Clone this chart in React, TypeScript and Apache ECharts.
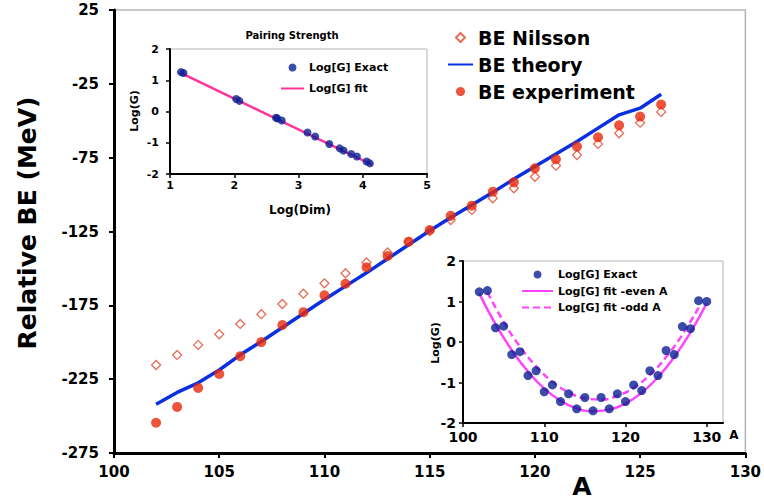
import React, { useEffect, useRef } from 'react';
import * as echarts from 'echarts';

// ---- Main chart data ----
const massNumbers = [102, 103, 104, 105, 106, 107, 108, 109, 110, 111, 112, 113, 114, 115, 116, 117, 118, 119, 120, 121, 122, 123, 124, 125, 126];
const beNilsson = [-215.4, -208.6, -201.8, -194.6, -187.6, -181, -174.1, -167.1, -160.1, -153.3, -146, -139.2, -132, -124.8, -117.2, -110.4, -102.5, -95.7, -87.9, -80.4, -73.2, -65.7, -58.5, -51.3, -44];
const beTheory = [-242, -234, -227.5, -218.8, -208.5, -199.5, -190, -180.5, -171, -162, -153, -143.5, -134, -124.5, -115.5, -107, -98.5, -89.5, -81, -72.5, -64, -55, -46, -41.5, -32];
const beExperiment = [-254.5, -243.8, -230.9, -221.5, -209.4, -199.9, -188.3, -179.6, -168.2, -160.4, -149.2, -141.6, -131.9, -124, -114.4, -107.5, -98, -91.7, -82.2, -76.1, -67.5, -61.2, -53.1, -47.2, -39];

// ---- Inset 1: Pairing strength vs Log(Dim) ----
const logDim = [1.17, 1.21, 2.03, 2.08, 2.65, 2.67, 2.74, 3.14, 3.26, 3.48, 3.64, 3.70, 3.82, 3.91, 4.06, 4.11];
const logGvsDim = [1.26, 1.23, 0.40, 0.34, -0.20, -0.22, -0.29, -0.67, -0.80, -1.04, -1.18, -1.25, -1.36, -1.44, -1.60, -1.66];
const fitLogDim = [1.15, 4.15];
const fitLogG = [1.25, -1.71];

// ---- Inset 2: Log(G) vs A ----
const insetA = [102, 103, 104, 105, 106, 107, 108, 109, 110, 111, 112, 113, 114, 115, 116, 117, 118, 119, 120, 121, 122, 123, 124, 125, 126, 127, 128, 129, 130];
const insetLogG = [1.24, 1.27, 0.35, 0.39, -0.31, -0.24, -0.83, -0.71, -1.23, -1.06, -1.47, -1.28, -1.65, -1.37, -1.70, -1.37, -1.65, -1.28, -1.47, -1.06, -1.20, -0.71, -0.83, -0.21, -0.31, 0.38, 0.33, 1.02, 1.0];
const evenA = [102, 104, 106, 108, 110, 112, 114, 116, 118, 120, 122, 124, 126, 128, 130];
const evenFit = [1.20, 0.44, -0.20, -0.73, -1.15, -1.45, -1.64, -1.71, -1.67, -1.52, -1.25, -0.87, -0.37, 0.24, 0.96];
const oddA = [103, 105, 107, 109, 111, 113, 115, 117, 119, 121, 123, 125, 127, 129];
const oddFit = [1.23, 0.50, -0.11, -0.60, -0.98, -1.24, -1.39, -1.42, -1.33, -1.13, -0.81, -0.37, 0.18, 0.85];

const FONT = 'DejaVu Sans';
const zip = (xs: number[], ys: number[]) => xs.map((x, i) => [x, ys[i]]);

const NAVY = '#0b1f93';
const PINK = '#ff3399';
const MAGENTA = '#ff44ff';
const DIAMOND_ICON = 'path://M5,0L10,5L5,10L0,5Z';

export default function App() {
  const ref = useRef<HTMLDivElement>(null);
  useEffect(() => {
    if (!ref.current) return;
    const chart = echarts.init(ref.current, undefined, { renderer: 'svg' });
    const axisLbl = (size: number, margin: number) => ({
      fontFamily: FONT, fontWeight: 'bold' as const, fontSize: size, color: '#000', margin,
    });
    const axisLine = (w: number) => ({ show: true, onZero: false, lineStyle: { color: '#000', width: w } });
    const tick = (len: number, w: number) => ({ show: true, inside: false, length: len, lineStyle: { color: '#000', width: w } });
    const hideSym = { opacity: 0 };

    chart.setOption({
      animation: false,
      backgroundColor: '#fff',
      grid: [
        { left: 114, top: 10, right: 16, bottom: 48, show: true, borderColor: '#b5b5b5', borderWidth: 1.5, backgroundColor: 'transparent' },
        { left: 170, top: 49, width: 257, height: 125, show: true, borderColor: '#b5b5b5', borderWidth: 1, backgroundColor: 'transparent' },
        { left: 463, top: 261, width: 260, height: 162, show: true, borderColor: '#b5b5b5', borderWidth: 1, backgroundColor: 'transparent' },
      ],
      xAxis: [
        { gridIndex: 0, type: 'value', min: 100, max: 130, interval: 5, axisLine: axisLine(3), axisTick: tick(5, 2), axisLabel: axisLbl(15, 11), splitLine: { show: false } },
        { gridIndex: 1, type: 'value', min: 1, max: 5, interval: 1, axisLine: axisLine(2), axisTick: tick(4, 1.5), axisLabel: axisLbl(11, 6), splitLine: { show: false } },
        { gridIndex: 2, type: 'value', min: 100, max: 132, axisLine: axisLine(2), axisTick: { ...tick(4, 1.5), customValues: [100, 110, 120, 130] }, axisLabel: { ...axisLbl(14, 7), customValues: [100, 110, 120, 130] }, splitLine: { show: false } },
      ],
      yAxis: [
        { gridIndex: 0, type: 'value', min: -275, max: 25, interval: 50, axisLine: axisLine(3), axisTick: tick(5, 2), axisLabel: axisLbl(15, 15), splitLine: { show: false } },
        { gridIndex: 1, type: 'value', min: -2, max: 2, interval: 1, axisLine: axisLine(2), axisTick: tick(4, 1.5), axisLabel: axisLbl(11, 11), splitLine: { show: false } },
        { gridIndex: 2, type: 'value', min: -2, max: 2, interval: 1, axisLine: axisLine(2), axisTick: tick(4, 1.5), axisLabel: axisLbl(14, 7), splitLine: { show: false } },
      ],
      legend: [
        {
          data: [{ name: 'BE Nilsson', icon: DIAMOND_ICON }, { name: 'BE theory', itemStyle: hideSym }, { name: 'BE experiment', icon: 'circle' }],
          orient: 'vertical', left: 447, top: 28, padding: 0, itemWidth: 25, itemHeight: 9, itemGap: 8, selectedMode: false, symbolKeepAspect: true,
          textStyle: { fontFamily: FONT, fontWeight: 'bold', fontSize: 19, color: '#000' },
        },
        {
          data: [{ name: 'Log[G] Exact', icon: 'circle' }, { name: 'Log[G] fit', itemStyle: hideSym }],
          orient: 'vertical', left: 280, top: 62, padding: 0, itemWidth: 23, itemHeight: 8, itemGap: 10, selectedMode: false, symbolKeepAspect: true,
          textStyle: { fontFamily: FONT, fontWeight: 'bold', fontSize: 11, color: '#000' },
        },
        {
          data: [{ name: 'Log[G] Exact', icon: 'circle' }, { name: 'Log[G] fit -even A', itemStyle: hideSym }, { name: 'Log[G] fit -odd A', itemStyle: hideSym }],
          orient: 'vertical', left: 521, top: 269, padding: 0, itemWidth: 31, itemHeight: 8, itemGap: 5.5, selectedMode: false, symbolKeepAspect: true,
          textStyle: { fontFamily: FONT, fontWeight: 'bold', fontSize: 11, color: '#000' },
        },
      ],
      series: [
        {
          name: 'BE Nilsson', type: 'scatter', xAxisIndex: 0, yAxisIndex: 0, symbol: 'diamond', symbolSize: 9,
          itemStyle: { color: '#ffffff', borderColor: '#e04a2e', borderWidth: 1.3 }, data: zip(massNumbers, beNilsson), z: 2,
        },
        {
          name: 'BE theory', type: 'line', xAxisIndex: 0, yAxisIndex: 0, symbol: 'none', smooth: false,
          lineStyle: { color: '#0a2fe0', width: 3.5 }, itemStyle: { color: '#0a2fe0' }, data: zip(massNumbers, beTheory), z: 3,
        },
        {
          name: 'BE experiment', type: 'scatter', xAxisIndex: 0, yAxisIndex: 0, symbol: 'circle', symbolSize: 10,
          itemStyle: { color: '#e8290b' }, data: zip(massNumbers, beExperiment), z: 4,
        },
        {
          name: 'Log[G] fit', type: 'line', xAxisIndex: 1, yAxisIndex: 1, symbol: 'none',
          lineStyle: { color: PINK, width: 2.5 }, itemStyle: { color: PINK }, data: zip(fitLogDim, fitLogG), z: 3,
        },
        {
          name: 'Log[G] Exact', type: 'scatter', xAxisIndex: 1, yAxisIndex: 1, symbol: 'circle', symbolSize: 8,
          itemStyle: { color: NAVY }, data: zip(logDim, logGvsDim), z: 4,
        },
        {
          name: 'Log[G] fit -even A', type: 'line', xAxisIndex: 2, yAxisIndex: 2, symbol: 'none', smooth: true,
          lineStyle: { color: MAGENTA, width: 2.5 }, itemStyle: { color: MAGENTA }, data: zip(evenA, evenFit), z: 3,
        },
        {
          name: 'Log[G] fit -odd A', type: 'line', xAxisIndex: 2, yAxisIndex: 2, symbol: 'none', smooth: true,
          lineStyle: { color: MAGENTA, width: 2.5, type: [7, 4] }, itemStyle: { color: MAGENTA }, data: zip(oddA, oddFit), z: 3,
        },
        {
          name: 'Log[G] Exact', type: 'scatter', xAxisIndex: 2, yAxisIndex: 2, symbol: 'circle', symbolSize: 9,
          itemStyle: { color: NAVY }, data: zip(insetA, insetLogG), z: 4,
        },
      ],
      graphic: [
        { type: 'text', x: 27, y: 223, rotation: Math.PI / 2, style: { text: 'Relative BE (MeV)', font: `bold 25px "${FONT}"`, fill: '#000', align: 'center', verticalAlign: 'middle' } },
        { type: 'text', x: 582, y: 486, style: { text: 'A', font: `bold 25px "${FONT}"`, fill: '#000', align: 'center', verticalAlign: 'middle' } },
        { type: 'text', x: 292, y: 35, style: { text: 'Pairing Strength', font: `bold 10px "${FONT}"`, fill: '#000', align: 'center', verticalAlign: 'middle' } },
        { type: 'text', x: 300, y: 210, style: { text: 'Log(Dim)', font: `bold 12px "${FONT}"`, fill: '#000', align: 'center', verticalAlign: 'middle' } },
        { type: 'text', x: 134, y: 111, rotation: Math.PI / 2, style: { text: 'Log(G)', font: `bold 11px "${FONT}"`, fill: '#000', align: 'center', verticalAlign: 'middle' } },
        { type: 'text', x: 435, y: 343, rotation: Math.PI / 2, style: { text: 'Log(G)', font: `bold 11px "${FONT}"`, fill: '#000', align: 'center', verticalAlign: 'middle' } },
        { type: 'text', x: 734, y: 435, style: { text: 'A', font: `bold 12px "${FONT}"`, fill: '#000', align: 'center', verticalAlign: 'middle' } },
      ],
    });
    return () => chart.dispose();
  }, []);
  return <div ref={ref} style={{ position: 'fixed', left: 0, top: 0, width: 764, height: 501 }} />;
}
